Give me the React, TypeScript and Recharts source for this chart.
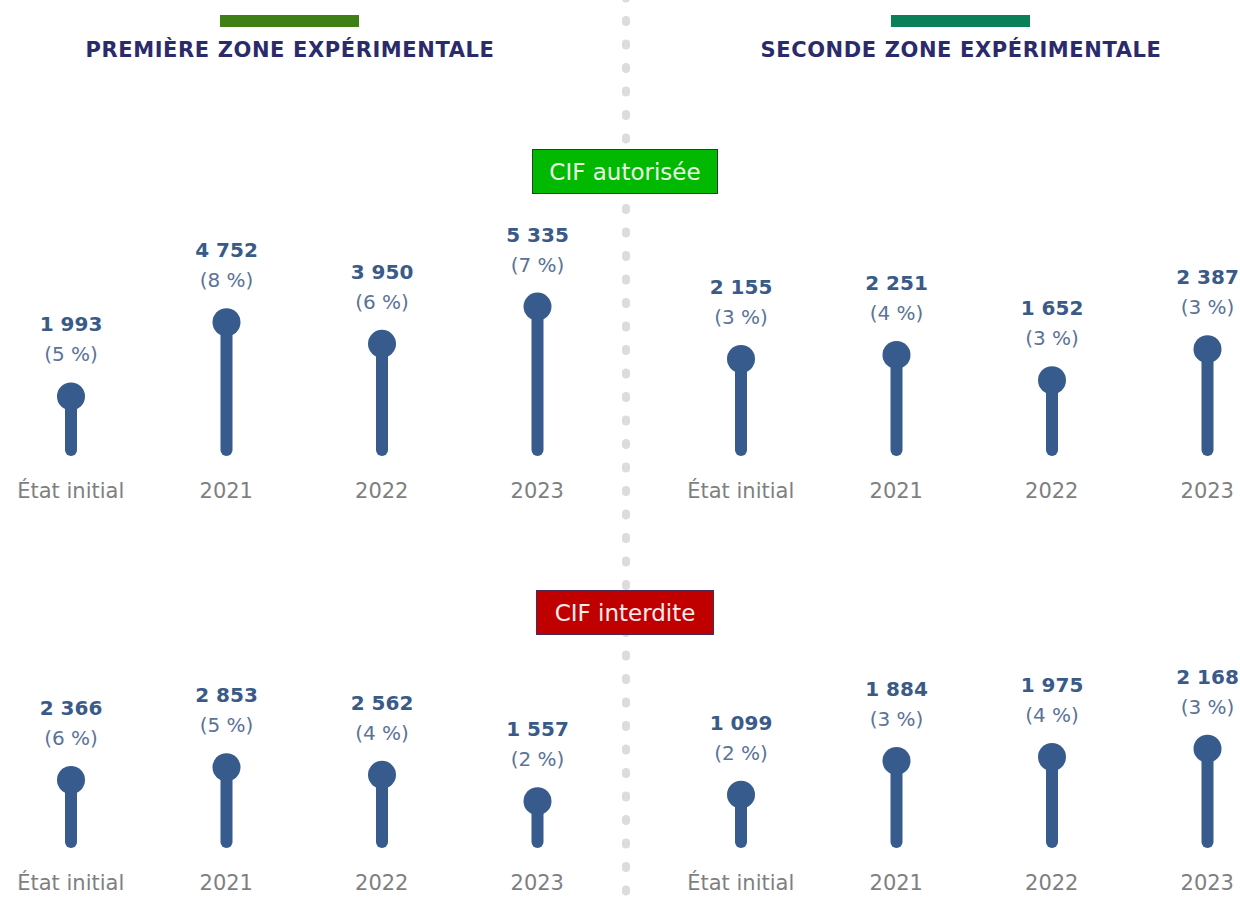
import React from 'react';
import { BarChart, Bar, XAxis, YAxis } from 'recharts';

// ── Data ─────────────────────────────────────────────────────────────────────

const categories = ['État initial', '2021', '2022', '2023'];

const zone1Autorisee = [1993, 4752, 3950, 5335];
const zone1AutoriseePct = [5, 8, 6, 7];
const zone2Autorisee = [2155, 2251, 1652, 2387];
const zone2AutoriseePct = [3, 4, 3, 3];

const zone1Interdite = [2366, 2853, 2562, 1557];
const zone1InterditePct = [6, 5, 4, 2];
const zone2Interdite = [1099, 1884, 1975, 2168];
const zone2InterditePct = [2, 3, 4, 3];

// ── Style constants ──────────────────────────────────────────────────────────

const FONT = '"DejaVu Sans", sans-serif';
const STEM = '#365b8c';
const VALUE_C = '#3a5a88';
const PCT_C = '#5b7398';
const CAT_C = '#7f7f7f';
const TITLE_C = '#2b2a6b';

const CHART_W = 622;
const CHART_H = 320;
const AXIS_H = 70; // plot bottom = top + CHART_H - AXIS_H

type Row = { cat: string; value: number; pct: number };

function toRows(values: number[], pcts: number[]): Row[] {
  return categories.map((cat, i) => ({ cat, value: values[i], pct: pcts[i] }));
}

function fmt(v: number): string {
  if (v < 1000) return String(v);
  return `${Math.floor(v / 1000)} ${String(v % 1000).padStart(3, '0')}`;
}

// ── Marks ────────────────────────────────────────────────────────────────────

function Lollipop(props: any) {
  const { x, y, width, height, payload } = props;
  const cx = x + width / 2;
  const base = y + height;
  return (
    <g>
      <line x1={cx} x2={cx} y1={base} y2={y} stroke={STEM} strokeWidth={12} strokeLinecap="round" />
      <circle cx={cx} cy={y} r={14} fill={STEM} />
      <text x={cx} y={y - 72} textAnchor="middle" dominantBaseline="central"
        fontFamily={FONT} fontWeight={700} fontSize={20} fill={VALUE_C}>
        {fmt(payload.value)}
      </text>
      <text x={cx} y={y - 42} textAnchor="middle" dominantBaseline="central"
        fontFamily={FONT} fontSize={20} fill={PCT_C}>
        ({payload.pct} %)
      </text>
    </g>
  );
}

function CatTick(props: any) {
  const { x, y, payload } = props;
  return (
    <text x={x} y={y + 41} textAnchor="middle" dominantBaseline="central"
      fontFamily={FONT} fontSize={21} fill={CAT_C}>
      {payload.value}
    </text>
  );
}

function Panel({ data, max, left, top }: { data: Row[]; max: number; left: number; top: number }) {
  return (
    <div style={{ position: 'absolute', left, top }}>
      <BarChart width={CHART_W} height={CHART_H} data={data}
        margin={{ top: 0, right: 0, bottom: 0, left: 0 }} barSize={12}>
        <XAxis dataKey="cat" height={AXIS_H} axisLine={false} tickLine={false}
          tickSize={0} tickMargin={0} interval={0} tick={<CatTick />} />
        <YAxis hide domain={[0, max]} />
        <Bar dataKey="value" shape={<Lollipop />} isAnimationActive={false} />
      </BarChart>
    </div>
  );
}

// ── Page ─────────────────────────────────────────────────────────────────────

export default function App() {
  const header = (text: string, center: number, bar: string) => (
    <>
      <div style={{ position: 'absolute', left: center - 70, top: 15, width: 139, height: 12, background: bar }} />
      <div style={{
        position: 'absolute', left: center - 300, top: 36, width: 600, textAlign: 'center',
        fontFamily: FONT, fontWeight: 700, fontSize: 21, letterSpacing: 0.6, color: TITLE_C, lineHeight: '28px',
      }}>{text}</div>
    </>
  );

  const badge = (text: string, left: number, top: number, w: number, bg: string, border: string, color: string) => (
    <div style={{
      position: 'absolute', left, top, width: w, height: 45, boxSizing: 'border-box',
      background: bg, border: `1.5px solid ${border}`, color, fontFamily: FONT, fontSize: 23,
      display: 'flex', alignItems: 'center', justifyContent: 'center',
    }}>{text}</div>
  );

  return (
    <div style={{ position: 'fixed', left: 0, top: 0, width: 1240, height: 897, overflow: 'hidden', background: '#fff' }}>
      <svg width={1240} height={897} style={{ position: 'absolute', left: 0, top: 0 }}>
        <line x1={626} x2={626} y1={-3.5} y2={900} stroke="#dcdcdc" strokeWidth={8}
          strokeDasharray="2 21.5" strokeLinecap="round" />
      </svg>

      {header('PREMIÈRE ZONE EXPÉRIMENTALE', 290, '#3e7f16')}
      {header('SECONDE ZONE EXPÉRIMENTALE', 961, '#0b8058')}

      {badge('CIF autorisée', 532, 149, 186, '#00b900', '#2d3b2d', '#eaf8e4')}
      {badge('CIF interdite', 536, 590, 178, '#c00000', '#4a2a5a', '#fbecec')}

      <Panel data={toRows(zone1Autorisee, zone1AutoriseePct)} max={9300} left={-7} top={200} />
      <Panel data={toRows(zone2Autorisee, zone2AutoriseePct)} max={5920} left={663} top={200} />
      <Panel data={toRows(zone1Interdite, zone1InterditePct)} max={9540} left={-7} top={592} />
      <Panel data={toRows(zone2Interdite, zone2InterditePct)} max={5810} left={663} top={592} />
    </div>
  );
}
